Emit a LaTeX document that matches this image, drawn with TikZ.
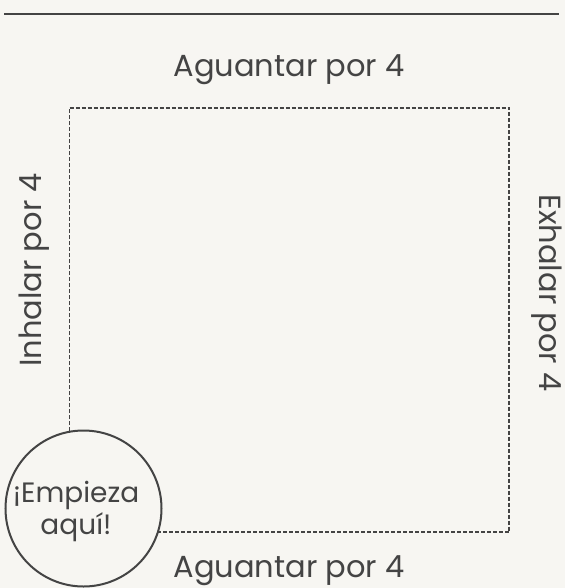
\documentclass[tikz,border=0pt]{standalone}
\usepackage{fontspec}
\setmainfont{Poppins}
\usetikzlibrary{positioning}
\definecolor{paper}{RGB}{247,246,242}
\definecolor{ink}{RGB}{68,68,68}

\begin{document}
\begin{tikzpicture}[
		x=1pt, y=-1pt,
		lbl/.style={text=ink, font=\fontsize{30.5}{32}\selectfont, inner sep=0pt},
		boxl/.style={draw=ink, dash pattern=on 4pt off 2pt, line width=1.8pt},
		startc/.style={draw=ink, circle, line width=2pt, fill=paper, minimum size=156pt, inner sep=0pt},
	]
	\fill[paper] (0,0) rectangle (565,588);
	\useasboundingbox (0,0) rectangle (565,588);

	% top rule
	\coordinate (rl) at (4,14);
	\coordinate (rr) at (559,14);
	\draw[ink, line width=2.2pt] (rl) -- (rr);

	% the box
	\coordinate (tl) at (69.5,108);
	\coordinate (tr) at (509,108);
	\coordinate (br) at (509,532);
	\coordinate (bl) at (69.5,532);
	\draw[boxl] (tl) -- (tr) -- (br) -- (bl) -- cycle;

	\node[startc] (start) at (83.5,508.5) {};
	\node[lbl, align=center, font=\fontsize{28}{32}\selectfont] (start_label) at (76,511) {¡Empieza\\aquí!};

	\node[lbl, anchor=base] (top) at (289,77) {Aguantar por 4};
	\node[lbl, anchor=base] (bottom) at (289,577) {Aguantar por 4};
	\node[lbl, anchor=base, rotate=90] (left) at (41.5,270) {Inhalar por 4};
	\node[lbl, anchor=base, rotate=-90] (right) at (539,293) {Exhalar por 4};
\end{tikzpicture}
\end{document}
